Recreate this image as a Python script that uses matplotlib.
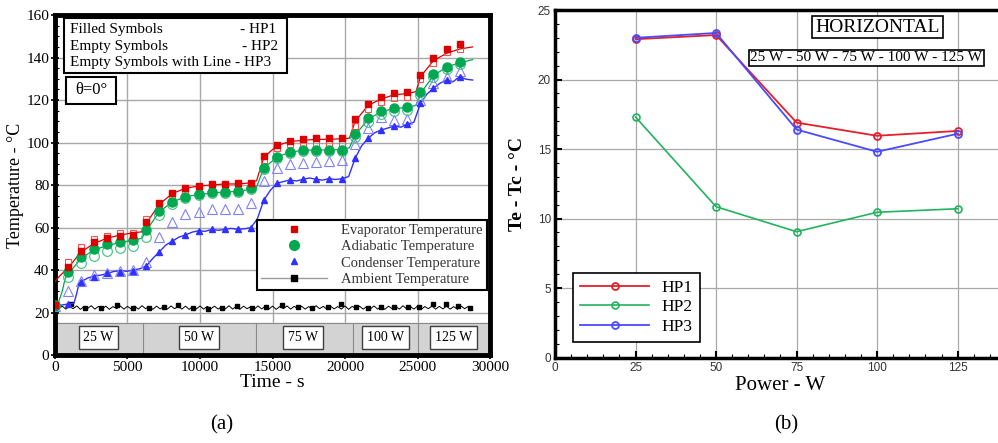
import numpy as np
import matplotlib
matplotlib.use('Agg')
import matplotlib.pyplot as plt
from matplotlib.lines import Line2D
from matplotlib.patches import Rectangle
from matplotlib.ticker import MultipleLocator

plt.rcParams['font.family'] = 'serif'
plt.rcParams['font.serif'] = ['Liberation Serif', 'DejaVu Serif']

# ---- transient test: temperatures sampled every 900 s ----
mark_t = list(range(0, 28800, 900))

evap_hp1 = [23.5, 41.6, 49.0, 53.0, 54.9, 56.0, 56.5, 62.7, 71.4, 76.1, 78.7, 79.7, 80.5, 80.5, 80.8, 80.8,
            93.6, 98.8, 100.8, 101.6, 102.0, 102.0, 102.1, 110.9, 118.0, 121.3, 123.1, 123.6, 131.8, 139.6, 143.8, 146.4]
evap_hp2 = [23.5, 43.6, 51.0, 54.4, 56.2, 57.3, 57.6, 63.8, 70.6, 75.3, 77.3, 78.9, 79.7, 79.7, 79.7, 80.2,
            91.8, 97.3, 99.3, 99.6, 99.9, 99.9, 99.9, 107.8, 115.6, 119.2, 120.8, 121.3, 129.7, 137.6, 142.7, 143.8]
adia_hp1 = [23.5, 39.2, 46.3, 49.9, 52.1, 53.3, 54.1, 58.8, 67.9, 72.2, 74.5, 75.8, 76.5, 76.9, 77.2, 78.4,
            88.2, 93.3, 95.7, 96.5, 96.5, 96.5, 96.5, 104.0, 111.4, 115.0, 116.4, 116.6, 123.6, 132.2, 135.7, 137.7]
adia_hp2 = [23.0, 36.9, 43.5, 46.8, 49.1, 50.2, 51.5, 55.4, 65.9, 71.1, 73.7, 75.3, 76.1, 76.3, 76.6, 78.0,
            87.5, 92.5, 95.0, 95.8, 96.0, 96.0, 96.2, 102.5, 109.8, 113.5, 115.0, 115.3, 122.5, 131.0, 134.8, 136.8]
cond_hp1 = [23.3, 24.0, 34.5, 36.9, 38.4, 39.2, 39.7, 41.9, 48.6, 53.6, 56.5, 58.5, 59.1, 59.1, 59.1, 59.9,
            72.9, 80.8, 82.4, 82.7, 82.7, 83.0, 83.0, 92.6, 102.0, 105.9, 107.8, 108.7, 118.4, 125.5, 129.4, 131.0]
cond_hp2 = [23.3, 30.1, 35.0, 37.5, 38.6, 39.4, 40.0, 44.0, 55.7, 62.7, 66.2, 67.5, 68.6, 68.6, 68.6, 71.4,
            81.9, 88.2, 89.9, 90.3, 90.6, 91.2, 91.8, 99.1, 106.6, 112.2, 110.6, 110.9, 120.0, 127.8, 131.0, 133.6]

# HP3 continuous records
evap_hp3_t = [0, 300, 900, 1800, 2700, 3600, 4500, 5400, 6000, 6300, 7200, 8100, 9000, 9900, 10800, 11700,
              12600, 13500, 13900, 14400, 15300, 16200, 17100, 18000, 18900, 19800, 20300, 20700, 21600,
              22500, 23400, 24300, 24900, 25200, 26100, 27000, 27900, 28800]
evap_hp3 = [34.5, 37.0, 41.0, 48.5, 52.5, 55.0, 56.5, 57.5, 58.0, 62.0, 71.0, 76.0, 78.5, 79.5, 80.0, 80.5,
            80.5, 81.0, 82.0, 93.0, 98.5, 100.5, 101.0, 101.5, 101.5, 101.8, 102.0, 110.0, 117.5,
            120.5, 122.5, 123.0, 124.0, 131.0, 138.5, 142.0, 144.0, 145.0]
adia_hp3_t = [0, 200, 500, 700, 900, 1800, 2700, 3600, 4500, 5400, 6000, 6300, 7200, 8100, 9000, 9900, 10800,
              11700, 12600, 13500, 13900, 14400, 15300, 16200, 17100, 18000, 18900, 19800, 20300, 20700,
              21600, 22500, 23400, 24300, 24900, 25200, 26100, 27000, 27900, 28800]
adia_hp3 = [23.0, 24.0, 30.0, 36.0, 38.0, 45.5, 49.5, 51.5, 53.0, 54.0, 55.0, 58.5, 67.5, 72.0, 74.5, 75.5, 76.2,
            76.7, 77.0, 78.0, 79.0, 88.0, 93.0, 95.5, 96.3, 96.5, 96.5, 96.7, 97.5, 103.5,
            111.0, 114.5, 116.0, 116.5, 117.5, 123.0, 131.5, 135.5, 137.5, 139.0]
cond_hp3_t = [0, 450, 900, 1300, 1500, 1650, 1800, 2250, 2700, 3150, 3600, 4050, 4500, 4950, 5400, 5850,
              6300, 6750, 7200, 7650, 8100, 8550, 9000, 9450, 9900, 10350, 10800, 11250, 11700, 12150,
              12600, 13050, 13500, 13950, 14400, 14850, 15300, 15750, 16200, 16650, 17100, 17550, 18000,
              18450, 18900, 19350, 19800, 20250, 20700, 21150, 21600, 22050, 22500, 22950, 23400, 23850,
              24300, 24750, 25200, 25650, 26100, 26550, 27000, 27450, 27900, 28350, 28800]
cond_hp3 = [23.3, 23.5, 24.0, 24.3, 29.0, 33.5, 34.5, 36.2, 37.2, 37.6, 38.4, 39.3, 39.7, 39.4, 40.0, 40.6,
            41.9, 45.5, 48.6, 51.8, 53.6, 55.5, 56.5, 57.8, 58.5, 58.2, 59.1, 58.7, 59.1, 59.6,
            59.1, 59.4, 59.9, 64.0, 72.9, 77.5, 80.8, 81.6, 82.4, 81.9, 82.7, 83.3, 82.7,
            82.3, 83.0, 82.6, 83.0, 84.0, 92.6, 98.5, 102.0, 104.6, 105.9, 106.8, 107.8, 107.2,
            108.7, 109.5, 118.4, 122.8, 125.5, 127.9, 129.4, 128.6, 131.0, 129.8, 129.4]

# ambient
amb_t = [1080, 2060, 3140, 4250, 5390, 6490, 7500, 8480, 9520, 10550, 11540, 12550, 13600, 14570, 15670,
         16740, 17730, 18810, 19720, 20760, 21560, 22480, 23400, 24310, 25120, 26080, 26950, 27820, 28600]
amb_T = [24.0, 22.0, 22.0, 23.5, 22.0, 22.0, 22.7, 23.5, 22.0, 21.5, 22.0, 23.1, 22.0, 22.7, 23.5,
         22.7, 22.0, 22.7, 24.0, 22.7, 22.0, 22.7, 22.4, 22.7, 22.7, 24.0, 24.0, 23.1, 22.0]
amb_line_t = np.arange(0, 29000, 250)
amb_line = [22.8, 21.7, 23.0, 21.6, 22.9, 21.8, 23.1, 21.5, 22.8, 21.9, 23.2, 21.6, 22.9, 21.7, 23.0, 21.5,
            22.8, 21.8, 23.1, 21.6, 22.9, 21.7, 23.0, 21.6, 23.2, 21.8, 22.9, 21.5, 23.0, 21.7, 22.8, 21.6,
            23.1, 21.8, 22.9, 21.6, 23.0, 21.5, 22.8, 21.7, 23.1, 21.6, 22.9, 21.8, 23.0, 21.6, 22.8, 21.7,
            23.2, 21.6, 22.9, 21.5, 23.0, 21.8, 22.8, 21.6, 23.1, 21.7, 22.9, 21.6, 23.0, 21.5, 22.8, 21.8,
            23.1, 21.6, 22.9, 21.7, 23.0, 21.6, 22.8, 21.5, 23.2, 21.8, 22.9, 21.6, 23.0, 21.7, 22.8, 21.6,
            23.1, 21.5, 22.9, 21.8, 23.0, 21.6, 22.8, 21.7, 23.1, 21.6, 22.9, 21.5, 23.0, 21.8, 22.8, 21.6,
            23.2, 21.7, 22.9, 21.6, 23.0, 21.5, 22.8, 21.8, 23.1, 21.6, 22.9, 21.7, 23.0, 21.6, 22.8, 21.5,
            23.1, 21.8, 22.9, 21.6]

# heat load steps
step_edges = [6050, 13830, 20570, 25040]
step_mid = [3000, 9950, 17100, 22800, 27500]
step_labels = ['25 W', '50 W', '75 W', '100 W', '125 W']

# ---- steady state: evaporator - condenser difference ----
power = [25, 50, 75, 100, 125]
dT_hp1 = [22.9, 23.2, 16.9, 15.95, 16.3]
dT_hp2 = [17.3, 10.85, 9.05, 10.45, 10.7]
dT_hp3 = [23.0, 23.35, 16.4, 14.8, 16.1]

red = '#dd0000'
green = '#00a84f'
blue = '#3030ff'

fig = plt.figure(figsize=(9.98, 4.43), dpi=100)
ax1 = fig.add_axes([0.0551, 0.1986, 0.4359, 0.7675])
ax2 = fig.add_axes([0.5561, 0.193, 0.4519, 0.7844])

# ---------------- (a) ----------------
ax1.set_xlim(0, 30000)
ax1.set_ylim(0, 160)
ax1.grid(True, color='#a8a8a8', lw=1.0, zorder=0)
ax1.set_axisbelow(True)
ax1.axhspan(0, 15, color='#d3d3d3', zorder=1)
ax1.axhline(15, color='#8a8a8a', lw=0.8, zorder=1.5)
ax1.vlines(step_edges, 0, 15, color='#8a8a8a', lw=0.8, zorder=1.5)
for c, lab in zip(step_mid, step_labels):
    ax1.text(c, 8.3, lab, ha='center', va='center', fontsize=10, zorder=2,
             bbox=dict(boxstyle='square,pad=0.35', fc='white', ec='#404040', lw=1.0))

ax1.plot(amb_line_t, amb_line, color='black', lw=0.7, zorder=3)
ax1.plot(amb_t, amb_T, ls='none', marker='s', ms=3.5, color='black', zorder=3)

ax1.plot(evap_hp3_t, evap_hp3, color=red, lw=0.9, zorder=3)
ax1.plot(adia_hp3_t, adia_hp3, color=green, lw=0.9, zorder=3)
ax1.plot(cond_hp3_t, cond_hp3, color=blue, lw=1.0, zorder=3)

ax1.plot(mark_t, cond_hp2, ls='none', marker='^', ms=7, mfc='none', mec='#8080ff', mew=0.8, zorder=4)
ax1.plot(mark_t, adia_hp2, ls='none', marker='o', ms=7, mfc='none', mec='#40c080', mew=0.8, zorder=4)
ax1.plot(mark_t, evap_hp2, ls='none', marker='s', ms=5, mfc='none', mec='#ff5050', mew=0.8, zorder=4)
ax1.plot(mark_t, cond_hp1, ls='none', marker='^', ms=5, color=blue, zorder=5)
ax1.plot(mark_t, adia_hp1, ls='none', marker='o', ms=6.5, color=green, zorder=5)
ax1.plot(mark_t, evap_hp1, ls='none', marker='s', ms=4.5, color=red, zorder=5)

ax1.xaxis.set_major_locator(MultipleLocator(5000))
ax1.xaxis.set_minor_locator(MultipleLocator(1000))
ax1.yaxis.set_major_locator(MultipleLocator(20))
ax1.yaxis.set_minor_locator(MultipleLocator(5))
ax1.tick_params(which='major', direction='inout', length=6, width=1.2, labelsize=11, pad=1)
ax1.tick_params(which='minor', direction='in', length=3, width=0.8)
for s in ax1.spines.values():
    s.set_linewidth(3.5)
ax1.set_xlabel('Time - s', fontsize=14, labelpad=0)
ax1.set_ylabel('Temperature - °C', fontsize=13, labelpad=2)

handles = [
    Line2D([], [], ls='none', marker='s', ms=4, color=red),
    Line2D([], [], ls='none', marker='o', ms=7, color=green),
    Line2D([], [], ls='none', marker='^', ms=5, color=blue),
    Line2D([], [], color='#999999', lw=1, marker='s', ms=4, mfc='black', mec='black'),
]
leg = ax1.legend(handles, ['Evaporator Temperature', 'Adiabatic Temperature',
                           'Condenser Temperature', 'Ambient Temperature'],
                 loc='lower right', bbox_to_anchor=(0.993, 0.191), borderaxespad=0,
                 fontsize=10.5, handlelength=4.5, handletextpad=1.0, labelspacing=0.2,
                 borderpad=0.3, fancybox=False, framealpha=1, edgecolor='black',
                 labelcolor='#333333')
leg.get_frame().set_linewidth(1.5)
leg.set_zorder(6)

ax1.add_patch(Rectangle((0.021, 0.829), 0.512, 0.162, transform=ax1.transAxes,
                        fc='white', ec='black', lw=1.5, zorder=6))
rows = [('Filled Symbols', '- HP1', 0.425), ('Empty Symbols', '- HP2', 0.431),
        ('Empty Symbols with Line', '- HP3', 0.414)]
for (left, right, xr), yy in zip(rows, [0.956, 0.907, 0.861]):
    ax1.text(0.034, yy, left, transform=ax1.transAxes, fontsize=11, va='center', zorder=7)
    ax1.text(xr, yy, right, transform=ax1.transAxes, fontsize=11, va='center', zorder=7)

ax1.add_patch(Rectangle((0.025, 0.738), 0.115, 0.080, transform=ax1.transAxes,
                        fc='white', ec='black', lw=1.5, zorder=6))
ax1.text(0.083, 0.778, 'θ=0°', transform=ax1.transAxes, fontsize=12,
         ha='center', va='center', zorder=7)

# ---------------- (b) ----------------
ax2.set_xlim(0, 140)
ax2.set_ylim(0, 25)
ax2.grid(True, color='#a8a8a8', lw=0.9, zorder=0)
ax2.set_axisbelow(True)
ax2.plot(power, dT_hp2, color='#22b35e', lw=1.2, marker='o', ms=5, mfc='none', mew=1.2, label='HP2')
ax2.plot(power, dT_hp1, color='#e3202a', lw=1.3, marker='o', ms=5, mfc='none', mew=1.3, label='HP1')
ax2.plot(power, dT_hp3, color='#4a4aff', lw=1.3, marker='o', ms=5, mfc='none', mew=1.3, label='HP3')

ax2.xaxis.set_major_locator(MultipleLocator(25))
ax2.xaxis.set_minor_locator(MultipleLocator(5))
ax2.yaxis.set_major_locator(MultipleLocator(5))
ax2.yaxis.set_minor_locator(MultipleLocator(1))
ax2.tick_params(which='major', direction='in', length=5, width=1.5, labelsize=8.5,
                labelcolor='#333333', labelfontfamily='Liberation Sans', pad=3)
ax2.tick_params(which='minor', direction='in', length=3, width=0.8)
for s in ax2.spines.values():
    s.set_linewidth(2.5)
ax2.set_xlabel('Power - W', fontsize=15, labelpad=2)
ax2.set_ylabel('Te - Tc - °C', fontsize=14, fontweight='bold', labelpad=8)

h = ax2.get_legend_handles_labels()[0]
leg2 = ax2.legend([h[1], h[0], h[2]], ['HP1', 'HP2', 'HP3'], loc='lower left',
                  bbox_to_anchor=(0.040, 0.045), borderaxespad=0, fontsize=12.5,
                  handlelength=4.0, handletextpad=0.7, labelspacing=0.2, borderpad=0.4,
                  fancybox=False, framealpha=1, edgecolor='black')
leg2.get_frame().set_linewidth(1.2)

ax2.text(0.715, 0.951, 'HORIZONTAL', transform=ax2.transAxes, ha='center', va='center',
         fontsize=14, bbox=dict(boxstyle='square,pad=0.15', fc='white', ec='black', lw=1.2))
ax2.text(0.433, 0.863, '25 W - 50 W - 75 W - 100 W - 125 W', transform=ax2.transAxes,
         ha='left', va='center', fontsize=11,
         bbox=dict(boxstyle='square,pad=0.1', fc='white', ec='black', lw=1.2))

fig.text(222 / 998, 1 - 425 / 443, '(a)', ha='center', va='center', fontsize=15)
fig.text(786 / 998, 1 - 425 / 443, '(b)', ha='center', va='center', fontsize=15)

fig.savefig('out.png', dpi=100)
